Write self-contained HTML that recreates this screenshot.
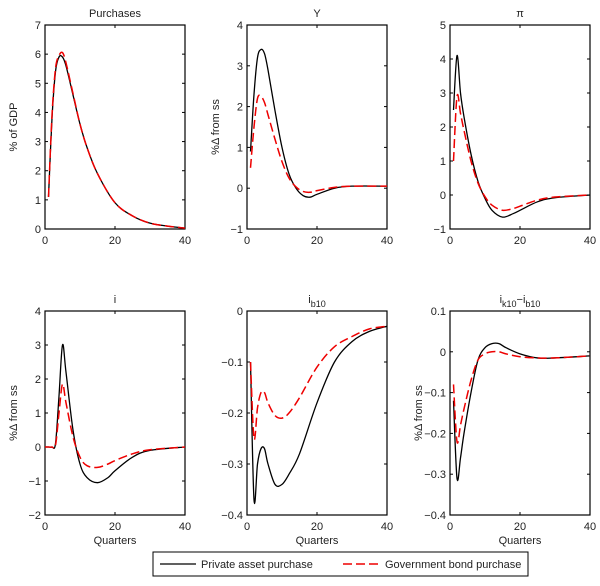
<!DOCTYPE html>
<html><head><meta charset="utf-8"><style>
body{margin:0;background:#fff;}
svg{display:block;font-family:"Liberation Sans",sans-serif;}
</style></head><body>
<svg id="chart" width="600" height="586"></svg>
<script>
const purchX=[1,2,3,4,5,6,8,10,12,15,20,25,30,35,40];
const purchBlack=[1.1,3.8,5.4,5.9,5.9,5.6,4.6,3.6,2.8,1.9,0.9,0.45,0.2,0.1,0.03];
const purchRed=[1.1,3.9,5.5,5.95,6.05,5.7,4.65,3.6,2.8,1.9,0.9,0.45,0.2,0.1,0.03];
const yX=[1,2,3,4,5,6,8,10,12,14,16,18,20,25,30,40];
const yBlack=[0.9,2.3,3.2,3.4,3.3,2.9,1.9,1.0,0.35,0,-0.18,-0.22,-0.15,0,0.05,0.05];
const yRed=[0.5,1.5,2.2,2.25,2.1,1.8,1.2,0.65,0.25,0.03,-0.08,-0.1,-0.06,0.02,0.05,0.05];
const piX=[1,2,3,4,6,8,10,12,15,18,20,25,30,40];
const piBlack=[2.5,4.1,3.0,2.3,1.2,0.4,-0.1,-0.45,-0.65,-0.55,-0.45,-0.2,-0.08,0];
const piRed=[1.0,2.9,2.4,1.9,1.0,0.35,-0.05,-0.3,-0.45,-0.4,-0.33,-0.15,-0.06,0];
const iX=[0,1,2,3,4,5,6,8,10,12,15,18,20,25,30,40];
const iBlack=[0,0,0,0.1,1.5,3.0,2.2,0.5,-0.5,-0.9,-1.05,-0.9,-0.7,-0.3,-0.1,0];
const iRed=[0,0,0,0.05,1.0,1.85,1.3,0.3,-0.3,-0.55,-0.6,-0.5,-0.4,-0.2,-0.08,0];
const bX=[1,2,3,4,5,6,8,10,12,15,20,25,30,35,40];
const bBlack=[-0.1,-0.37,-0.3,-0.27,-0.27,-0.3,-0.34,-0.34,-0.32,-0.28,-0.18,-0.1,-0.06,-0.04,-0.03];
const bRed=[-0.1,-0.25,-0.19,-0.16,-0.16,-0.18,-0.205,-0.21,-0.2,-0.17,-0.11,-0.07,-0.05,-0.035,-0.03];
const sX=[1,2,3,4,6,8,10,12,14,16,20,25,30,40];
const sBlack=[-0.12,-0.31,-0.26,-0.2,-0.1,-0.02,0.01,0.02,0.02,0.01,-0.005,-0.015,-0.015,-0.01];
const sRed=[-0.08,-0.22,-0.18,-0.14,-0.07,-0.02,-0.005,0,0,-0.005,-0.012,-0.015,-0.015,-0.01];
const xTicks=[0,20,40];

const NS="http://www.w3.org/2000/svg";
const svg=document.getElementById('chart');
function el(t,a,p){const e=document.createElementNS(NS,t);for(const k in a)e.setAttribute(k,a[k]);(p||svg).appendChild(e);return e;}
function pathD(pts){let d="M"+pts[0][0]+","+pts[0][1];
 for(let i=0;i<pts.length-1;i++){const p0=pts[Math.max(i-1,0)],p1=pts[i],p2=pts[i+1],p3=pts[Math.min(i+2,pts.length-1)];
 const c1=[p1[0]+(p2[0]-p0[0])/6,p1[1]+(p2[1]-p0[1])/6],c2=[p2[0]-(p3[0]-p1[0])/6,p2[1]-(p3[1]-p1[1])/6];
 d+=" C"+c1[0]+","+c1[1]+" "+c2[0]+","+c2[1]+" "+p2[0]+","+p2[1];}return d;}
const panels=[
 {name:'purchases',x:45,y:25,ymin:0,ymax:7,yt:[0,1,2,3,4,5,6,7],title:'Purchases',yl:'% of GDP',X:purchX,B:purchBlack,R:purchRed},
 {name:'output',x:247,y:25,ymin:-1,ymax:4,yt:[-1,0,1,2,3,4],title:'Y',yl:'%Δ from ss',X:yX,B:yBlack,R:yRed},
 {name:'inflation',x:450,y:25,ymin:-1,ymax:5,yt:[-1,0,1,2,3,4,5],title:'π',yl:'',X:piX,B:piBlack,R:piRed},
 {name:'policy-rate',x:45,y:311,ymin:-2,ymax:4,yt:[-2,-1,0,1,2,3,4],title:'i',yl:'%Δ from ss',X:iX,B:iBlack,R:iRed,q:1},
 {name:'bond-yield',x:247,y:311,ymin:-0.4,ymax:0,yt:[-0.4,-0.3,-0.2,-0.1,0],title:'ib10',yl:'',X:bX,B:bBlack,R:bRed,q:1},
 {name:'spread',x:450,y:311,ymin:-0.4,ymax:0.1,yt:[-0.4,-0.3,-0.2,-0.1,0,0.1],title:'spread',yl:'%Δ from ss',X:sX,B:sBlack,R:sRed,q:1}];
const W=140,H=204;
panels.forEach(p=>{
 const g=el('g',{});
 
 
 const sx=v=>p.x+v/40*W, sy=v=>p.y+H-(v-p.ymin)/(p.ymax-p.ymin)*H;
 el('rect',{x:p.x,y:p.y,width:W,height:H,fill:'#fff',stroke:'#000','stroke-width':1.2},g);
 p.yt.forEach(t=>{const y=sy(t);
  el('line',{x1:p.x,x2:p.x+3,y1:y,y2:y,stroke:'#000'},g);el('line',{x1:p.x+W-3,x2:p.x+W,y1:y,y2:y,stroke:'#000'},g);
  const tx=el('text',{x:p.x-4,y:y+4,'font-size':11,'text-anchor':'end',fill:'#222'},g);tx.textContent=String(t).replace('-','−');});
 xTicks.forEach(t=>{const x=sx(t);
  el('line',{x1:x,x2:x,y1:p.y+H,y2:p.y+H-3,stroke:'#000'},g);el('line',{x1:x,x2:x,y1:p.y,y2:p.y+3,stroke:'#000'},g);
  const tx=el('text',{x:x,y:p.y+H+15,'font-size':11,'text-anchor':'middle',fill:'#222'},g);tx.textContent=t;});
 const tt=el('text',{x:p.x+W/2,y:p.y-8,'font-size':11,'text-anchor':'middle',fill:'#222'},g);
 if(p.title==='ib10'){tt.textContent='i';const s=el('tspan',{'font-size':9,dy:4},tt);s.textContent='b10';}
 else if(p.title==='spread'){tt.textContent='i';let s=el('tspan',{'font-size':9,dy:4},tt);s.textContent='k10';s=el('tspan',{dy:-4},tt);s.textContent='−i';s=el('tspan',{'font-size':9,dy:4},tt);s.textContent='b10';}
 else tt.textContent=p.title;
 if(p.yl){const yl=el('text',{x:0,y:0,'font-size':11,'text-anchor':'middle',fill:'#222',transform:`translate(${p.x-28},${p.y+H/2}) rotate(-90)`},g);yl.textContent=p.yl;}
 if(p.q){const q=el('text',{x:p.x+W/2,y:p.y+H+29,'font-size':11,'text-anchor':'middle',fill:'#222'},g);q.textContent='Quarters';}
 const cp=el('clipPath',{id:'c'+p.name},g);el('rect',{x:p.x,y:p.y,width:W,height:H},cp);
 const b=el('path',{d:pathD(p.X.map((v,i)=>[sx(v),sy(p.B[i])])),fill:'none',stroke:'#000','stroke-width':1.3,'clip-path':`url(#c${p.name})`},g);
 
 
 const r=el('path',{d:pathD(p.X.map((v,i)=>[sx(v),sy(p.R[i])])),fill:'none',stroke:'#e00','stroke-width':1.5,'stroke-dasharray':'9,4','clip-path':`url(#c${p.name})`},g);
 
 
});
const lg=el('g',{});


el('rect',{x:153,y:552,width:375,height:24,fill:'#fff',stroke:'#000','stroke-width':1},lg);
el('line',{x1:160,x2:196,y1:564,y2:564,stroke:'#000','stroke-width':1.3},lg);
let t=el('text',{x:201,y:568,'font-size':11,fill:'#222'},lg);t.textContent='Private asset purchase';
el('line',{x1:343,x2:379,y1:564,y2:564,stroke:'#e00','stroke-width':1.5,'stroke-dasharray':'9,4'},lg);
t=el('text',{x:385,y:568,'font-size':11,fill:'#222'},lg);t.textContent='Government bond purchase';
</script>
</body></html>
